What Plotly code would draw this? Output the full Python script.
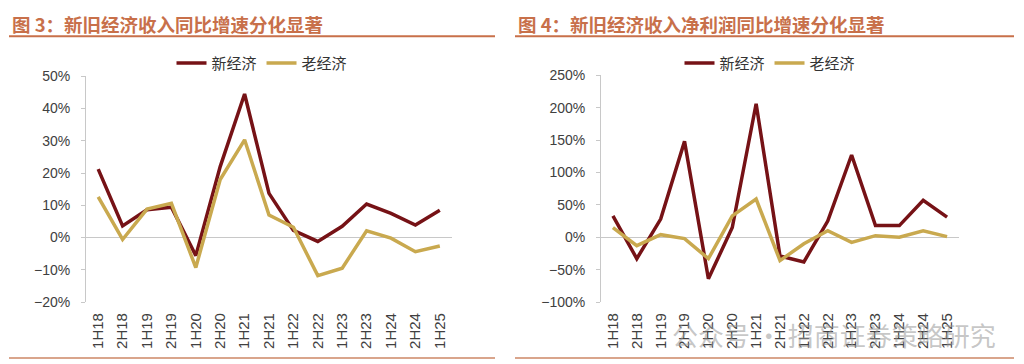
import plotly.graph_objects as go

categories = ["1H18", "2H18", "1H19", "2H19", "1H20", "2H20", "1H21", "2H21",
              "1H22", "2H22", "1H23", "2H23", "1H24", "2H24", "1H25"]

# Figure 3: revenue YoY growth
rev_new = [0.212, 0.036, 0.086, 0.094, -0.056, 0.22, 0.445, 0.137,
           0.022, -0.012, 0.035, 0.104, 0.075, 0.039, 0.085]
rev_old = [0.126, -0.006, 0.088, 0.106, -0.093, 0.18, 0.303, 0.07,
           0.032, -0.118, -0.095, 0.021, -0.002, -0.044, -0.026]

# Figure 4: net profit YoY growth
np_new = [0.33, -0.33, 0.28, 1.48, -0.64, 0.15, 2.06, -0.29,
          -0.38, 0.25, 1.27, 0.18, 0.18, 0.57, 0.31]
np_old = [0.15, -0.13, 0.04, -0.02, -0.33, 0.33, 0.59, -0.36,
          -0.10, 0.10, -0.08, 0.025, 0.0, 0.10, 0.01]

names = ["新经济", "老经济"]
titles = ["图 3：新旧经济收入同比增速分化显著", "图 4：新旧经济收入净利润同比增速分化显著"]

C_NEW = "#761216"
C_OLD = "#C9A94F"
TITLE_C = "#C8704A"
GRID_C = "#C8C8C8"
W, H = 1024, 372
YOFF = 8          # figure offset inside the captured page
SY = 380 / 364    # captured page height vs picture height

fig = go.Figure()

def px_x(v):
    return v / W

def px_y(v):
    return 1 - (v * SY - YOFF) / H

panels = [
    dict(x0=86, x1=452, ytop=76, ybot=302, rng=[-0.2, 0.5], dtick=0.1,
         new=rev_new, old=rev_old, xa="x", ya="y", leg="legend", legx=262),
    dict(x0=601, x1=959, ytop=75, ybot=302, rng=[-1.0, 2.5], dtick=0.5,
         new=np_new, old=np_old, xa="x2", ya="y2", leg="legend2", legx=770),
]

for i, p in enumerate(panels):
    for name, vals, col in [(names[0], p["new"], C_NEW), (names[1], p["old"], C_OLD)]:
        fig.add_trace(go.Scatter(
            x=categories, y=vals, name=name, mode="lines",
            line=dict(color=col, width=3.5),
            xaxis=p["xa"], yaxis=p["ya"], legend=p["leg"],
            hoverinfo="x+y+name",
        ))

axis_font = dict(family="Liberation Sans, Arial, sans-serif", size=14, color="#404040")
xtick_font = dict(family="Liberation Sans, Arial, sans-serif", size=15, color="#404040")

layout = dict(
    width=W, height=H, autosize=False,
    margin=dict(l=0, r=0, t=0, b=0),
    paper_bgcolor="white", plot_bgcolor="white",
    showlegend=True,
)

for i, p in enumerate(panels):
    sfx = "" if i == 0 else str(i + 1)
    layout["xaxis" + sfx] = dict(
        domain=[px_x(p["x0"]), px_x(p["x1"])],
        anchor="y" + sfx, type="category", range=[-0.5, 14.5],
        showline=False, showgrid=False, zeroline=False, ticks="",
        tickangle=-90, tickfont=xtick_font, fixedrange=True,
        ticklabelstandoff=7,
    )
    layout["yaxis" + sfx] = dict(
        domain=[px_y(p["ybot"]), px_y(p["ytop"])],
        anchor="x" + sfx, range=p["rng"], dtick=p["dtick"], tick0=0,
        tickformat=".0%", showgrid=False,
        zeroline=True, zerolinecolor=GRID_C, zerolinewidth=1,
        showline=True, linecolor=GRID_C, linewidth=1,
        ticks="outside", ticklen=4, tickcolor=GRID_C,
        tickfont=axis_font, fixedrange=True, ticklabelstandoff=8,
    )
    layout[p["leg"]] = dict(
        orientation="h", x=px_x(p["legx"]), xanchor="center",
        y=px_y(63), yanchor="middle",
        font=dict(family="Noto Sans CJK SC", size=15, color="#333333"),
        bgcolor="rgba(0,0,0,0)", tracegroupgap=0,
    )

fig.update_layout(**layout)

shapes = []
annotations = []
for i, (xa, xb) in enumerate([(9, 495), (515, 1014)]):
    shapes.append(dict(type="line", xref="paper", yref="paper",
                       x0=px_x(xa), x1=px_x(xb), y0=px_y(36), y1=px_y(36),
                       line=dict(color=TITLE_C, width=2)))
    shapes.append(dict(type="line", xref="paper", yref="paper",
                       x0=px_x(xa), x1=px_x(xb), y0=px_y(358), y1=px_y(358),
                       line=dict(color="#D9A58C", width=2)))
    annotations.append(dict(
        text=titles[i], xref="paper", yref="paper",
        x=px_x(xa + 1), y=px_y(24), xanchor="left", yanchor="middle",
        showarrow=False,
        font=dict(family="Noto Sans CJK SC", size=18.5, color=TITLE_C, weight="bold"),
    ))

annotations.append(dict(
    text="公众号 · 招商证券策略研究", xref="paper", yref="paper",
    x=px_x(834), y=px_y(334), xanchor="center", yanchor="middle",
    showarrow=False,
    font=dict(family="Noto Sans CJK SC", size=26, color="rgba(150,150,150,0.55)"),
))

fig.update_layout(shapes=shapes, annotations=annotations)

fig.write_html(
    "out.html",
    config={"displayModeBar": False},
    post_script="document.body.style.margin='0';document.body.style.padding='0';",
)
